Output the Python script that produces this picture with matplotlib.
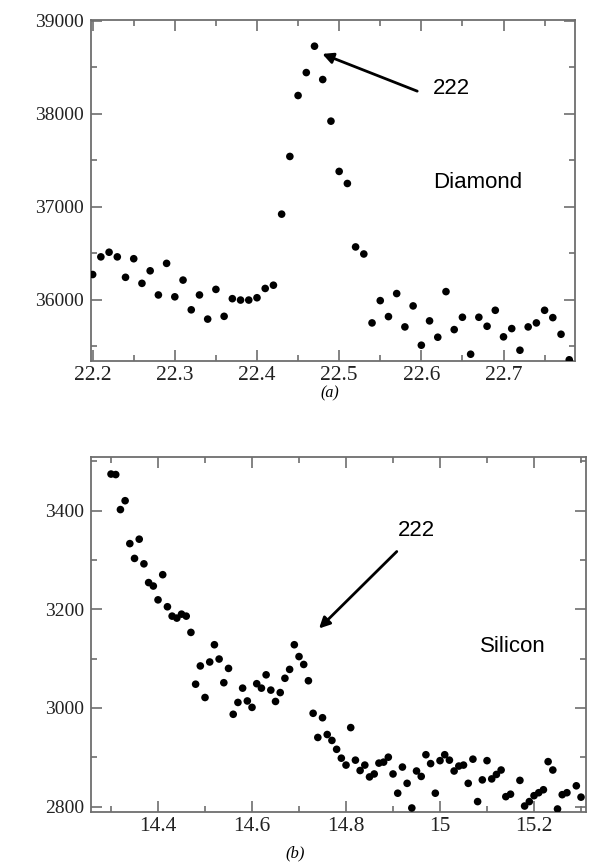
import matplotlib
matplotlib.use("Agg")
import matplotlib.pyplot as plt
from matplotlib.ticker import MultipleLocator, FormatStrFormatter, FuncFormatter

# ---- data: (a) Diamond ----
diamond_x = [22.20, 22.21, 22.22, 22.23, 22.24, 22.25, 22.26, 22.27, 22.28, 22.29,
             22.30, 22.31, 22.32, 22.33, 22.34, 22.35, 22.36, 22.37, 22.38, 22.39,
             22.40, 22.41, 22.42, 22.43, 22.44, 22.45, 22.46, 22.47, 22.48, 22.49,
             22.50, 22.51, 22.52, 22.53, 22.54, 22.55, 22.56, 22.57, 22.58, 22.59,
             22.60, 22.61, 22.62, 22.63, 22.64, 22.65, 22.66, 22.67, 22.68, 22.69,
             22.70, 22.71, 22.72, 22.73, 22.74, 22.75, 22.76, 22.77, 22.78]
diamond_y = [36270, 36460, 36510, 36460, 36240, 36440, 36175, 36310, 36050, 36390,
             36030, 36210, 35890, 36050, 35790, 36110, 35820, 36010, 35995, 35995,
             36020, 36120, 36155, 36920, 37541, 38197, 38444, 38728, 38369, 37921,
             37380, 37250, 36567, 36491, 35749, 35989, 35817, 36065, 35706, 35932,
             35509, 35771, 35595, 36086, 35677, 35810, 35412, 35810, 35713, 35885,
             35599, 35688, 35455, 35706, 35749, 35885, 35806, 35627, 35352]
diamond_xticks = [22.2, 22.3, 22.4, 22.5, 22.6, 22.7]
diamond_yticks = [36000, 37000, 38000, 39000]

# ---- data: (b) Silicon ----
silicon_x = [14.30, 14.31, 14.32, 14.33, 14.34, 14.35, 14.36, 14.37, 14.38, 14.39,
             14.40, 14.41, 14.42, 14.43, 14.44, 14.45, 14.46, 14.47, 14.48, 14.49,
             14.50, 14.51, 14.52, 14.53, 14.54, 14.55, 14.56, 14.57, 14.58, 14.59,
             14.60, 14.61, 14.62, 14.63, 14.64, 14.65, 14.66, 14.67, 14.68, 14.69,
             14.70, 14.71, 14.72, 14.73, 14.74, 14.75, 14.76, 14.77, 14.78, 14.79,
             14.80, 14.81, 14.82, 14.83, 14.84, 14.85, 14.86, 14.87, 14.88, 14.89,
             14.90, 14.91, 14.92, 14.93, 14.94, 14.95, 14.96, 14.97, 14.98, 14.99,
             15.00, 15.01, 15.02, 15.03, 15.04, 15.05, 15.06, 15.07, 15.08, 15.09,
             15.10, 15.11, 15.12, 15.13, 15.14, 15.15, 15.17, 15.18, 15.19, 15.20,
             15.21, 15.22, 15.23, 15.24, 15.25, 15.26, 15.27, 15.29, 15.30]
silicon_y = [3474, 3473, 3402, 3420, 3333, 3303, 3342, 3292, 3254, 3247,
             3219, 3270, 3205, 3186, 3182, 3190, 3186, 3153, 3048, 3085,
             3021, 3093, 3128, 3099, 3051, 3080, 2987, 3011, 3040, 3014,
             3001, 3049, 3040, 3067, 3036, 3013, 3031, 3060, 3078, 3128,
             3104, 3088, 3055, 2989, 2940, 2980, 2946, 2934, 2916, 2898,
             2884, 2960, 2894, 2873, 2884, 2860, 2866, 2888, 2890, 2900,
             2866, 2827, 2880, 2847, 2797, 2872, 2861, 2905, 2887, 2827,
             2893, 2905, 2894, 2872, 2882, 2884, 2847, 2896, 2810, 2854,
             2893, 2856, 2865, 2874, 2820, 2825, 2853, 2801, 2810, 2822,
             2828, 2834, 2891, 2874, 2795, 2824, 2828, 2842, 2819]
silicon_xticks = [14.4, 14.6, 14.8, 15.0, 15.2]
silicon_yticks = [2800, 3000, 3200, 3400]

W, H = 589, 868
fig = plt.figure(figsize=(W / 100, H / 100), dpi=100)

spine_col = "#6e6e6e"
serif = ["Liberation Serif", "DejaVu Serif"]
sans = ["Liberation Sans", "DejaVu Sans"]


def style_axes(ax):
    for s in ax.spines.values():
        s.set_color(spine_col)
        s.set_linewidth(1.3)
    ax.tick_params(which="both", direction="in", top=True, right=True,
                   color=spine_col, width=1.2)
    ax.tick_params(which="major", length=8)
    ax.tick_params(which="minor", length=4.5)
    ax.tick_params(axis="x", labelsize=15.5, pad=3.5, labelcolor="#222222")
    ax.tick_params(axis="y", labelsize=14, pad=5, labelcolor="#222222")
    for lab in ax.get_xticklabels() + ax.get_yticklabels():
        lab.set_family(serif)


# ---- top panel ----
ax1 = fig.add_axes([91 / W, 1 - 361 / H, (575 - 91) / W, (361 - 20) / H])
ax1.scatter(diamond_x, diamond_y, s=30, color="black", edgecolors="none", zorder=3)
ax1.set_xlim(22.198, 22.787)
ax1.set_ylim(35339, 39010)
ax1.set_xticks(diamond_xticks)
ax1.set_yticks(diamond_yticks)
ax1.xaxis.set_minor_locator(MultipleLocator(0.05))
ax1.yaxis.set_minor_locator(MultipleLocator(500))
ax1.xaxis.set_major_formatter(FormatStrFormatter("%.1f"))
style_axes(ax1)
ax1.annotate("", xy=(22.4795, 38645), xytext=(22.595, 38244),
             arrowprops=dict(arrowstyle="-|>", color="black", lw=2,
                             mutation_scale=16, shrinkA=0, shrinkB=0))
ax1.text(22.614, 38270, "222", fontsize=16, family=sans, va="center", ha="left")
ax1.text(22.614, 37258, "Diamond", fontsize=16, family=sans, va="center", ha="left")
fig.text(330 / W, 1 - 393 / H, "(a)", fontsize=11.5, family=serif, style="italic",
         ha="center", va="center")

# ---- bottom panel ----
ax2 = fig.add_axes([91 / W, 1 - 811.7 / H, (586 - 91) / W, (811.7 - 457.3) / H])
ax2.scatter(silicon_x, silicon_y, s=30, color="black", edgecolors="none", zorder=3)
ax2.set_xlim(14.2574, 15.3106)
ax2.set_ylim(2789.5, 3508)
ax2.set_xticks(silicon_xticks)
ax2.set_yticks(silicon_yticks)
ax2.xaxis.set_minor_locator(MultipleLocator(0.1))
ax2.yaxis.set_minor_locator(MultipleLocator(100))
ax2.xaxis.set_major_formatter(FuncFormatter(lambda v, p: "%g" % round(v, 2)))
style_axes(ax2)
ax2.annotate("", xy=(14.7426, 3161), xytext=(14.908, 3317),
             arrowprops=dict(arrowstyle="-|>", color="black", lw=2,
                             mutation_scale=16, shrinkA=0, shrinkB=0))
ax2.text(14.949, 3359, "222", fontsize=16, family=sans, va="center", ha="center")
ax2.text(15.084, 3124, "Silicon", fontsize=16, family=sans, va="center", ha="left")
fig.text(295 / W, 1 - 853 / H, "(b)", fontsize=12, family=serif, style="italic",
         ha="center", va="center")

fig.savefig("out.png", dpi=100)
